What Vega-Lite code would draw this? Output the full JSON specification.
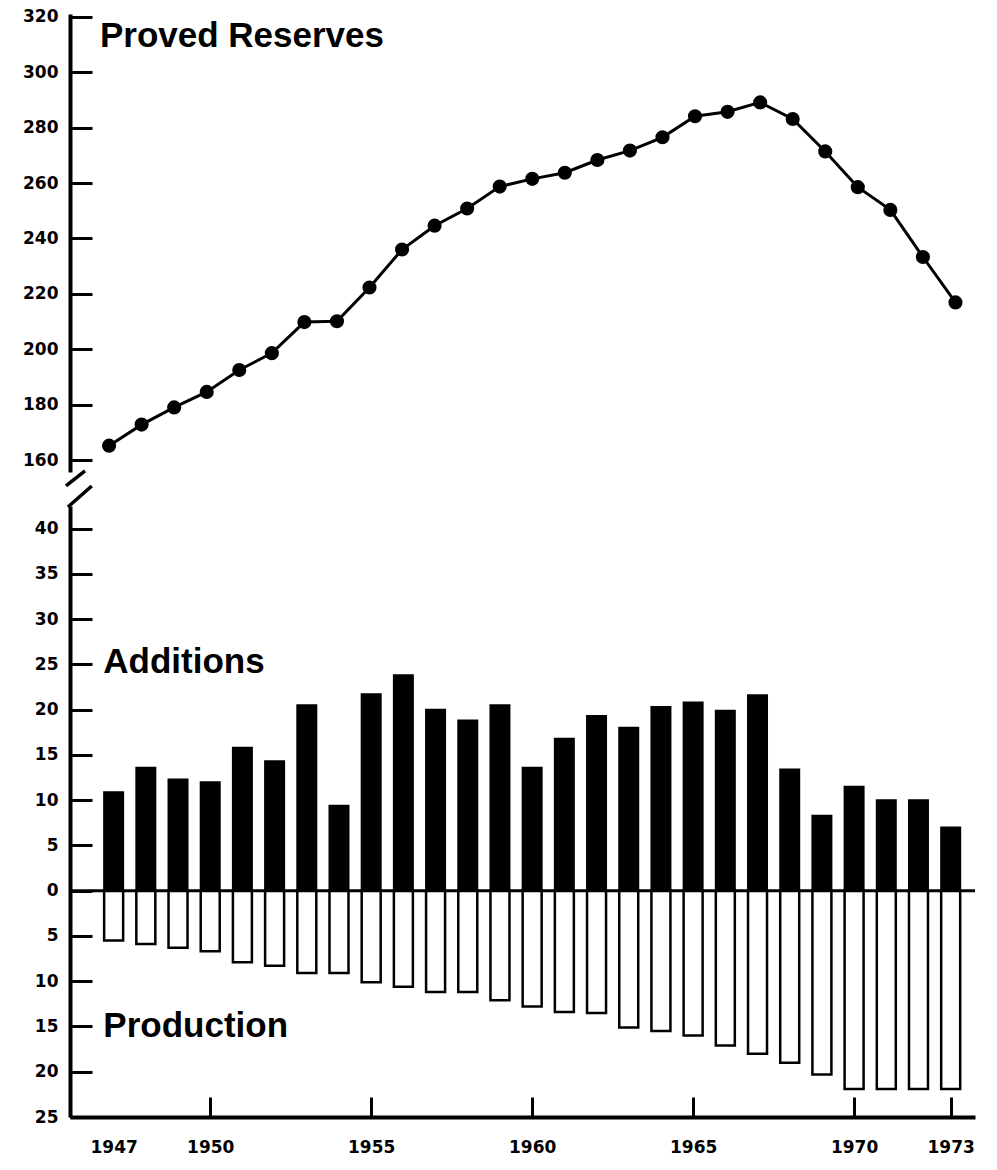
{
  "$schema": "https://vega.github.io/schema/vega-lite/v6.json",
  "padding": {"left": 22, "top": 7, "right": 0, "bottom": 0},
  "background": "white",
  "bounds": "flush",
  "config": {
    "view": {"stroke": null},
    "axis": {"labelFont": "DejaVu Sans", "labelFontWeight": "bold", "labelFontSize": 17, "labelColor": "black", "domainColor": "black", "tickColor": "black", "grid": false, "title": null},
    "text": {"font": "Liberation Sans", "fontWeight": "bold", "fontSize": 35, "fill": "black"},
    "concat": {"spacing": 34}
  },
  "data": {"values": [
    {"year": 1947, "reserves": 165.2, "additions": 11.0, "production": -5.5},
    {"year": 1948, "reserves": 172.8, "additions": 13.7, "production": -5.9},
    {"year": 1949, "reserves": 179.0, "additions": 12.4, "production": -6.3},
    {"year": 1950, "reserves": 184.6, "additions": 12.1, "production": -6.7},
    {"year": 1951, "reserves": 192.5, "additions": 15.9, "production": -7.9},
    {"year": 1952, "reserves": 198.6, "additions": 14.4, "production": -8.3},
    {"year": 1953, "reserves": 209.8, "additions": 20.6, "production": -9.1},
    {"year": 1954, "reserves": 210.1, "additions": 9.5, "production": -9.1},
    {"year": 1955, "reserves": 222.3, "additions": 21.8, "production": -10.1},
    {"year": 1956, "reserves": 236.0, "additions": 23.9, "production": -10.6},
    {"year": 1957, "reserves": 244.6, "additions": 20.1, "production": -11.2},
    {"year": 1958, "reserves": 250.8, "additions": 18.9, "production": -11.2},
    {"year": 1959, "reserves": 258.7, "additions": 20.6, "production": -12.1},
    {"year": 1960, "reserves": 261.5, "additions": 13.7, "production": -12.8},
    {"year": 1961, "reserves": 263.7, "additions": 16.9, "production": -13.4},
    {"year": 1962, "reserves": 268.3, "additions": 19.4, "production": -13.5},
    {"year": 1963, "reserves": 271.7, "additions": 18.1, "production": -15.1},
    {"year": 1964, "reserves": 276.5, "additions": 20.4, "production": -15.5},
    {"year": 1965, "reserves": 284.1, "additions": 20.9, "production": -16.0},
    {"year": 1966, "reserves": 285.7, "additions": 20.0, "production": -17.1},
    {"year": 1967, "reserves": 289.1, "additions": 21.7, "production": -18.0},
    {"year": 1968, "reserves": 283.1, "additions": 13.5, "production": -19.0},
    {"year": 1969, "reserves": 271.4, "additions": 8.4, "production": -20.3},
    {"year": 1970, "reserves": 258.5, "additions": 11.6, "production": -21.9},
    {"year": 1971, "reserves": 250.3, "additions": 10.1, "production": -21.9},
    {"year": 1972, "reserves": 233.3, "additions": 10.1, "production": -21.9},
    {"year": 1973, "reserves": 216.9, "additions": 7.1, "production": -21.9}
  ]},
  "vconcat": [
    {
      "width": 905,
      "height": 458,
      "layer": [
        {
          "mark": {"type": "line", "color": "black", "strokeWidth": 3},
          "encoding": {
            "x": {"field": "year", "type": "quantitative", "scale": {"domain": [1945.8, 1973.6], "nice": false, "zero": false}, "axis": null},
            "y": {"field": "reserves", "type": "quantitative", "scale": {"domain": [155.7, 321], "nice": false, "zero": false},
                  "axis": {"values": [160, 180, 200, 220, 240, 260, 280, 300, 320], "tickSize": -22, "tickWidth": 3, "domainWidth": 4, "labelPadding": 34}}
          }
        },
        {
          "mark": {"type": "point", "filled": true, "color": "black", "size": 200, "opacity": 1},
          "encoding": {
            "x": {"field": "year", "type": "quantitative"},
            "y": {"field": "reserves", "type": "quantitative"}
          }
        },
        {
          "data": {"values": [{}]},
          "mark": {"type": "text", "text": "Proved Reserves", "align": "left", "baseline": "middle"},
          "encoding": {"x": {"datum": 1946.72, "type": "quantitative"}, "y": {"datum": 313, "type": "quantitative"}}
        }
      ]
    },
    {
      "width": 905,
      "height": 611,
      "layer": [
        {
          "mark": {"type": "bar", "color": "black", "size": 21},
          "encoding": {
            "x": {"field": "year", "type": "quantitative", "scale": {"domain": [1945.8, 1973.6], "nice": false, "zero": false},
                  "axis": {"values": [1947, 1950, 1955, 1960, 1965, 1970, 1973], "format": "d", "tickSize": -20, "tickWidth": 3, "domainWidth": 4, "labelPadding": 42,
                           "tickOpacity": {"condition": {"test": "datum.value == 1947", "value": 0}, "value": 1}}},
            "y": {"field": "additions", "type": "quantitative", "scale": {"domain": [-25, 42.5], "nice": false, "zero": false},
                  "axis": {"values": [-25, -20, -15, -10, -5, 0, 5, 10, 15, 20, 25, 30, 35, 40], "labelExpr": "'' + abs(datum.value)", "tickSize": -22, "tickWidth": 3, "domainWidth": 4, "labelPadding": 34}},
            "y2": {"datum": 0}
          }
        },
        {
          "mark": {"type": "bar", "fill": "white", "stroke": "black", "strokeWidth": 2.5, "size": 19},
          "encoding": {
            "x": {"field": "year", "type": "quantitative"},
            "y": {"field": "production", "type": "quantitative"},
            "y2": {"datum": 0}
          }
        },
        {
          "data": {"values": [{}]},
          "mark": {"type": "rule", "color": "black", "strokeWidth": 3},
          "encoding": {"y": {"datum": 0, "type": "quantitative"}}
        },
        {
          "data": {"values": [{}]},
          "mark": {"type": "text", "text": "Additions", "align": "left", "baseline": "middle"},
          "encoding": {"x": {"datum": 1946.68, "type": "quantitative"}, "y": {"datum": 25.3, "type": "quantitative"}}
        },
        {
          "data": {"values": [{}]},
          "mark": {"type": "text", "text": "Production", "align": "left", "baseline": "middle"},
          "encoding": {"x": {"datum": 1946.68, "type": "quantitative"}, "y": {"datum": -15.0, "type": "quantitative"}}
        },
        {
          "data": {"values": [{"x1": 1945.52, "y1": 44.71, "x2": 1946.11, "y2": 46.37}, {"x1": 1945.58, "y1": 42.39, "x2": 1946.32, "y2": 44.71}]},
          "mark": {"type": "rule", "color": "black", "strokeWidth": 3.5, "clip": false},
          "encoding": {
            "x": {"field": "x1", "type": "quantitative"},
            "x2": {"field": "x2"},
            "y": {"field": "y1", "type": "quantitative"},
            "y2": {"field": "y2"}
          }
        }
      ]
    }
  ]
}
